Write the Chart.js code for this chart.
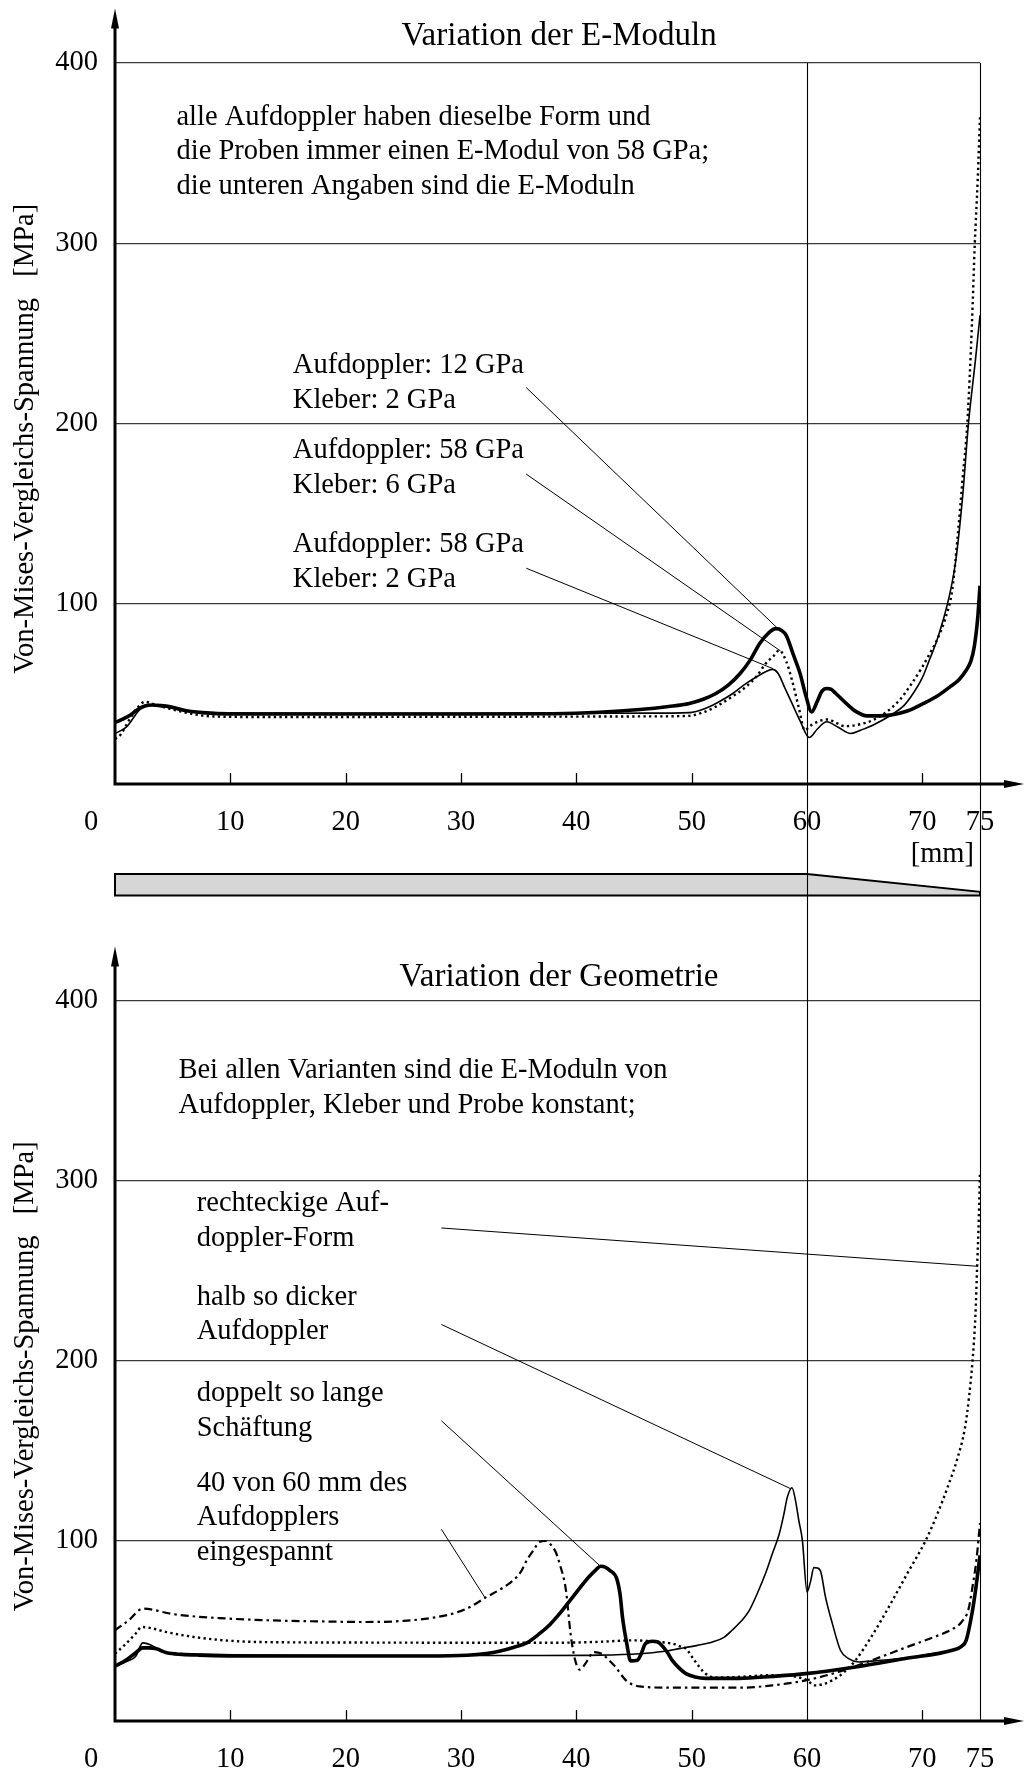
<!DOCTYPE html>
<html lang="de">
<head>
<meta charset="utf-8">
<title>Von-Mises-Vergleichs-Spannung</title>
<script src="https://cdn.jsdelivr.net/npm/chart.js@4.4.1/dist/chart.umd.min.js"></script>
<style>
  html, body { margin: 0; padding: 0; background: #fff; overflow: hidden; }
  .panel { position: absolute; left: 0; }
  #panelTop { top: 0; }
  #panelBottom { top: 905px; }
</style>
</head>
<body>
<div class="panel" id="panelTop"><canvas id="chartTop" width="1026" height="905"></canvas></div>
<div class="panel" id="panelBottom"><canvas id="chartBottom" width="1026" height="866"></canvas></div>
<script>
// Achsen: Position [mm] / Von-Mises-Vergleichs-Spannung [MPa]
const xTicks = [0, 10, 20, 30, 40, 50, 60, 70, 75];
const yTicks = [0, 100, 200, 300, 400];
const sectionLines = [60, 75];

// Probenkontur: relative Dicke des Aufdopplers
const profileX = [0, 60, 75];
const profileRel = [1, 1, 0.17];

// oben: Variation der E-Moduln
// Aufdoppler 12 GPa / Kleber 2 GPa (dick)
const emod12x2X = [0, 0.6, 1.3, 2.0, 2.6, 3.2, 4.0, 4.8, 6.2, 8.2, 12, 20, 30, 38, 42, 45.5, 48, 49.8, 51, 52.1,
  53.2, 54.2, 55.1, 55.9, 56.7, 57.3, 57.8, 58.2, 58.8, 59.4, 59.9, 60.4, 60.9, 61.3, 61.7, 62.1, 62.5, 63.4, 64.3, 65.2,
  66.2, 67.2, 68.7, 70.1, 71.3, 72.4, 73.2, 73.8, 74.2, 74.5, 74.8, 75];
const emod12x2Y = [34, 35.8, 38.2, 41.5, 43.3, 43.8, 43.5, 42.8, 40.6, 39.3, 38.8, 38.8, 38.8, 39, 39.8, 41.3, 43, 44.7, 47, 50.2,
  55, 61.3, 69, 77.9, 84, 86.2, 85.2, 82.5, 72, 61.3, 49, 40, 46, 51.5, 53, 52.5, 50.2, 44.7, 40, 37.8,
  37.8, 38.2, 40.5, 44.7, 48.8, 53.9, 58, 63.1, 68, 76, 92, 110];
// Aufdoppler 58 GPa / Kleber 6 GPa (gepunktet)
const emod58x6X = [0, 0.5, 1.0, 1.8, 2.6, 3.5, 4.7, 6.2, 8.2, 12, 20, 30, 40, 46, 49.8, 51, 52.1, 53.4, 54.7, 55.6,
  56.4, 57.1, 57.6, 58.2, 58.7, 59.3, 59.8, 60.4, 61.1, 61.8, 62.5, 63.3, 64.5, 65.7, 66.9, 68.0, 69.0, 70.0, 70.7, 71.4,
  72.0, 72.6, 73.1, 73.5, 73.9, 74.3, 74.55, 74.8, 75];
const emod58x6Y = [25, 27.5, 33, 41, 45.6, 44, 41.8, 39.5, 37.6, 37.2, 37.2, 37.3, 37.4, 37.5, 37.8, 39.8, 42.9, 48, 53.9, 59.5,
  66.7, 71, 74.2, 68, 57.6, 42, 29.9, 32.8, 35, 35.8, 34, 32.1, 33, 35.4, 40, 46.4, 55, 65, 73, 81.7,
  92, 108, 140, 170, 200, 255, 300, 335, 370];
// Aufdoppler 58 GPa / Kleber 2 GPa (duenn)
const emod58x2X = [0, 1.0, 2.1, 2.7, 3.5, 4.7, 6.2, 8.2, 12, 20, 30, 40, 46, 49.8, 51, 52.1, 53.4, 54.7, 55.9, 56.5,
  57.0, 57.5, 58.1, 58.7, 59.4, 60.2, 60.9, 61.7, 62.7, 63.8, 64.7, 65.7, 67.4, 68.4, 69.2, 70.0, 70.6, 71.2, 71.8, 72.4,
  72.9, 73.5, 74.0, 74.6, 75];
const emod58x2Y = [28, 31.7, 41, 43.8, 43.5, 42.3, 40.5, 39.6, 39.3, 39.2, 39.2, 39.2, 39.3, 39.6, 41.5, 44.7, 49.5, 55.7, 60.5, 62.5,
  63.6, 61.3, 53, 44.7, 35, 25.8, 30.5, 34.5, 31.5, 28, 30, 32.6, 38.7, 43.5, 50.2, 59, 68.6, 78.5, 90.8, 106,
  124, 160, 200, 235, 260];

// unten: Variation der Geometrie
// rechteckige Aufdoppler-Form (gepunktet)
const rechteckX = [0, 0.8, 1.8, 2.3, 3.2, 4.4, 6.5, 8.8, 11.7, 20, 30, 38.6, 42, 45.0, 47, 48.3, 49.0, 49.5, 50.2, 51.2,
  52.1, 54, 57, 59.9, 60.7, 61.4, 62.2, 63.2, 64.2, 65.6, 67.1, 68.7, 70.3, 71.3, 72.2, 73.0, 73.7, 74.05, 74.35, 74.6,
  74.75, 74.9, 75];
const rechteckY = [37.4, 42, 48.6, 52.2, 51.5, 49.5, 47, 45.2, 44, 43.6, 43.5, 43.5, 44, 44.8, 44, 43, 41.5, 40.2, 34, 26.3,
  24.1, 24.5, 25.5, 23, 19.8, 20.5, 22.6, 27, 33.7, 47, 63.4, 82, 100.4, 115, 130, 145, 163, 180, 200, 225,
  252, 280, 305];
// halb so dicker Aufdoppler (duenn)
const halbDickX = [0, 1.0, 1.8, 2.4, 3.3, 4.1, 5.5, 7.3, 12, 20, 30, 37, 42, 45.5, 47.5, 48.9, 50.5, 51.8, 52.8, 53.5,
  54.3, 55.0, 55.7, 56.4, 57.0, 57.6, 58.0, 58.3, 58.7, 59.0, 59.3, 59.6, 60.0, 60.3, 60.6, 60.9, 61.2, 61.6, 62.2, 62.9,
  63.6, 64.5, 66, 68.5, 70.5, 72.6, 73.8, 74.3, 74.7, 75];
const halbDickY = [30.4, 33, 36, 43.4, 41.6, 38.3, 37.4, 37.1, 36.6, 36.4, 36.4, 36.4, 36.6, 37.4, 38.6, 40.2, 42, 43.9, 46.5, 50.4,
  55.5, 61.5, 71, 81.9, 93, 104, 115, 124.5, 129.6, 122.6, 111, 100.4, 71.7, 77.3, 85.2, 85, 82.8, 69, 54.1, 39.3,
  34.7, 32.8, 33.5, 35, 37, 39.5, 45, 60, 75, 92];
// doppelt so lange Schaeftung (dick)
const doppeltX = [0, 1.0, 1.8, 2.4, 3.0, 3.6, 4.5, 5.8, 7.3, 12, 20, 27, 30.5, 32.2, 33.4, 34.6, 35.7, 36.8, 37.7, 38.55,
  39.7, 41.1, 41.7, 42.1, 42.5, 42.9, 43.5, 43.8, 44.0, 44.4, 44.7, 45.3, 45.6, 46.0, 46.6, 47.0, 47.4, 47.9, 48.3, 48.9,
  49.5, 50.3, 51.2, 54.1, 57, 59.9, 64.2, 68.5, 72.6, 73.4, 73.8, 74.3, 74.6, 75];
const doppeltY = [30.4, 34, 37.9, 40.6, 40.6, 40.1, 37.9, 37, 36.6, 36.1, 36.1, 36.1, 36.5, 37.5, 38.9, 41, 43.4, 48.5, 53.5, 59.6,
  69, 80.1, 84, 86, 85.5, 83.7, 79.1, 70, 57.8, 42, 33.4, 33.8, 37, 43, 44.3, 44, 42.1, 38, 33.8, 29.5,
  26.3, 24.5, 23.7, 23.7, 24.8, 26.3, 30, 34.7, 39.3, 41.5, 44.8, 59.6, 72, 92];
// 40 von 60 mm des Aufdopplers eingespannt (strichpunktiert)
const eingespanntX = [0, 1.2, 2.4, 3.3, 4.5, 5.9, 9, 13.1, 18, 21.8, 25, 27.6, 29.2, 30.5, 32.2, 33.5, 34.5, 35.2, 35.7, 36.3,
  36.8, 37.3, 37.7, 38.2, 38.55, 39.1, 39.5, 39.9, 40.3, 40.9, 41.5, 42.2, 42.8, 43.4, 44.3, 45.5, 48.3, 54.1, 57.0, 59.9,
  62.7, 65.6, 68.5, 71.4, 72.6, 73.4, 74.0, 74.3, 74.7, 75];
const eingespanntY = [50.4, 56, 62.4, 61.8, 60, 58.7, 57.2, 56, 55.3, 55, 55.6, 57.4, 59.5, 62.4, 68.8, 73.5, 78, 83, 89.3, 95,
  99.5, 100, 98.5, 94, 87.4, 72.6, 48.5, 33.7, 28.5, 33, 38.3, 37.4, 34, 30, 22.6, 19.2, 18.5, 18.5, 19.8, 22.6,
  27.2, 33.7, 40.7, 47.6, 51, 55, 62, 72.6, 90, 110];

const SERIF = "'Liberation Serif', 'Times New Roman', Times, serif";
const FS = 28.5;
const LINE_STEP = 34.4;

const thick = { borderWidth: 3.6 };
const thin = { borderWidth: 1.6 };
const dotted = { borderWidth: 2.4, borderDash: [2.3, 3.3] };
const dashDot = { borderWidth: 2.2, borderDash: [8, 4, 2.5, 4] };

function series(xs, ys, style) {
  return Object.assign({
    data: xs.map((x, i) => ({ x, y: ys[i] })),
    borderColor: '#000',
    pointRadius: 0,
    fill: false,
    cubicInterpolationMode: 'monotone'
  }, style);
}

function leader(from, to) {
  return {
    data: [{ x: from[0], y: from[1] }, { x: to[0], y: to[1] }],
    borderColor: '#000',
    borderWidth: 1,
    pointRadius: 0,
    tension: 0
  };
}

// Achsen, Kontur, Linien bei 60/75 und Beschriftungen
const decor = {
  id: 'decor',
  afterDatasetsDraw(chart, args, o) {
    const { ctx, chartArea: a, scales: { x, y } } = chart;
    ctx.save();

    if (o.profile) {
      const base = a.bottom + 111.5;
      ctx.beginPath();
      profileX.forEach((v, i) => {
        const px = x.getPixelForValue(v), py = base - 21.5 * profileRel[i];
        if (i) ctx.lineTo(px, py); else ctx.moveTo(px, py);
      });
      ctx.lineTo(x.getPixelForValue(profileX[profileX.length - 1]), base);
      ctx.lineTo(x.getPixelForValue(profileX[0]), base);
      ctx.closePath();
      ctx.fillStyle = '#d6d6d6';
      ctx.fill();
      ctx.lineWidth = 2;
      ctx.strokeStyle = '#000';
      ctx.stroke();
    }

    // senkrechte Linien bei 60 und 75
    ctx.strokeStyle = '#000';
    ctx.lineWidth = 1.1;
    sectionLines.forEach(v => {
      const px = Math.round(x.getPixelForValue(v)) + 0.5;
      ctx.beginPath();
      ctx.moveTo(px, o.linesFromTop ? 0 : a.top);
      ctx.lineTo(px, o.linesFromTop ? a.bottom : chart.height);
      ctx.stroke();
    });

    // kleine Teilstriche
    ctx.lineWidth = 1.3;
    xTicks.forEach(v => {
      if (v === 0 || sectionLines.includes(v)) return;
      const px = Math.round(x.getPixelForValue(v)) + 0.5;
      ctx.beginPath();
      ctx.moveTo(px, a.bottom);
      ctx.lineTo(px, a.bottom - 11);
      ctx.stroke();
    });

    // Achsen mit Pfeilen
    const x0 = x.getPixelForValue(0), y0 = y.getPixelForValue(0);
    const tipY = a.top - 54.5, tipX = chart.width - 2;
    ctx.lineWidth = 3;
    ctx.beginPath();
    ctx.moveTo(x0, y0 + 1.5);
    ctx.lineTo(x0, tipY + 12);
    ctx.moveTo(x0 - 1.5, y0);
    ctx.lineTo(tipX - 12, y0);
    ctx.stroke();
    ctx.fillStyle = '#000';
    ctx.beginPath();
    ctx.moveTo(x0, tipY);
    ctx.lineTo(x0 - 4, tipY + 20);
    ctx.lineTo(x0 + 4, tipY + 20);
    ctx.closePath();
    ctx.fill();
    ctx.beginPath();
    ctx.moveTo(tipX, y0);
    ctx.lineTo(tipX - 20, y0 - 4);
    ctx.lineTo(tipX - 20, y0 + 4);
    ctx.closePath();
    ctx.fill();

    // Texte
    ctx.fillStyle = '#000';
    ctx.textBaseline = 'alphabetic';
    ctx.font = '33px ' + SERIF;
    ctx.textAlign = 'center';
    ctx.fillText(o.title, x.getPixelForValue(38.5), y.getPixelForValue(o.titleAt));

    ctx.font = FS + 'px ' + SERIF;
    ctx.textAlign = 'left';
    o.notes.forEach(n => {
      const px = x.getPixelForValue(n.at[0]), py = y.getPixelForValue(n.at[1]);
      n.lines.forEach((t, i) => ctx.fillText(t, px, py + i * LINE_STEP));
    });

    ctx.textAlign = 'center';
    ctx.textBaseline = 'alphabetic';
    ctx.fillText('0', x0 - 24, a.bottom + 46);

    if (o.unit) {
      ctx.textAlign = 'right';
      ctx.fillText(o.unit, x.getPixelForValue(75) - 6, a.bottom + 77.7);
    }

    ctx.translate(33, y.getPixelForValue(191.5));
    ctx.rotate(-Math.PI / 2);
    ctx.textAlign = 'center';
    ctx.textBaseline = 'alphabetic';
    ctx.fillText('Von-Mises-Vergleichs-Spannung   [MPa]', 0, 0);

    ctx.restore();
  }
};

function makeChart(id, datasets, deco, padTop, xHeight) {
  const tickFont = { family: SERIF, size: FS, lineHeight: 1.2 };
  return new Chart(document.getElementById(id), {
    type: 'line',
    data: { datasets },
    options: {
      responsive: false,
      animation: false,
      devicePixelRatio: 1,
      layout: { padding: { top: padTop, right: 46, bottom: 0, left: 0 } },
      plugins: { legend: { display: false }, tooltip: { enabled: false }, decor: deco },
      scales: {
        x: {
          type: 'linear', min: 0, max: 75,
          afterFit: s => { s.height = xHeight; },
          afterBuildTicks: s => { s.ticks = xTicks.map(v => ({ value: v })); },
          grid: { display: false },
          border: { display: false },
          ticks: { autoSkip: false, maxRotation: 0, padding: 13, color: '#000', font: tickFont,
            callback: v => (v === 0 ? '' : String(v)) }
        },
        y: {
          type: 'linear', min: 0, max: 400,
          afterFit: s => { s.width = 115; },
          afterBuildTicks: s => { s.ticks = yTicks.map(v => ({ value: v })); },
          grid: { color: '#3a3a3a', lineWidth: 1.2, drawTicks: false },
          border: { display: false },
          ticks: { padding: 17, color: '#000', font: tickFont,
            callback: v => (v === 0 ? '' : String(v)) }
        }
      }
    },
    plugins: [decor]
  });
}

makeChart('chartTop', [
  series(emod12x2X, emod12x2Y, thick),
  series(emod58x6X, emod58x6Y, dotted),
  series(emod58x2X, emod58x2Y, thin),
  leader([35.66, 219.9], [57.35, 87.0]),
  leader([35.66, 171.9], [57.7, 73.8]),
  leader([35.66, 119.7], [57.05, 64.0])
], {
  title: 'Variation der E-Moduln',
  titleAt: 410,
  profile: true,
  linesFromTop: false,
  unit: '[mm]',
  notes: [
    { at: [5.33, 365.6], lines: ['alle Aufdoppler haben dieselbe Form und',
      'die Proben immer einen E-Modul von 58 GPa;', 'die unteren Angaben sind die E-Moduln'] },
    { at: [15.42, 227.8], lines: ['Aufdoppler: 12 GPa', 'Kleber: 2 GPa'] },
    { at: [15.42, 180.8], lines: ['Aufdoppler: 58 GPa', 'Kleber: 6 GPa'] },
    { at: [15.42, 128.6], lines: ['Aufdoppler: 58 GPa', 'Kleber: 2 GPa'] }
  ]
}, 63, 121);

makeChart('chartBottom', [
  series(rechteckX, rechteckY, dotted),
  series(halbDickX, halbDickY, thin),
  series(eingespanntX, eingespanntY, dashDot),
  series(doppeltX, doppeltY, thick),
  leader([28.3, 273.9], [74.83, 252.6]),
  leader([28.3, 220.3], [58.6, 129.0]),
  leader([28.3, 166.8], [42.0, 86.5]),
  leader([28.3, 106.5], [32.1, 68.3])
], {
  title: 'Variation der Geometrie',
  titleAt: 408.3,
  profile: false,
  linesFromTop: true,
  unit: null,
  notes: [
    { at: [5.5, 357.1], lines: ['Bei allen Varianten sind die E-Moduln von',
      'Aufdoppler, Kleber und Probe konstant;'] },
    { at: [7.09, 283.1], lines: ['rechteckige Auf-', 'doppler-Form'] },
    { at: [7.09, 231.2], lines: ['halb so dicker', 'Aufdoppler'] },
    { at: [7.09, 177.7], lines: ['doppelt so lange', 'Schäftung'] },
    { at: [7.09, 127.9], lines: ['40 von 60 mm des', 'Aufdopplers', 'eingespannt'] }
  ]
}, 96, 50);
</script>
</body>
</html>
